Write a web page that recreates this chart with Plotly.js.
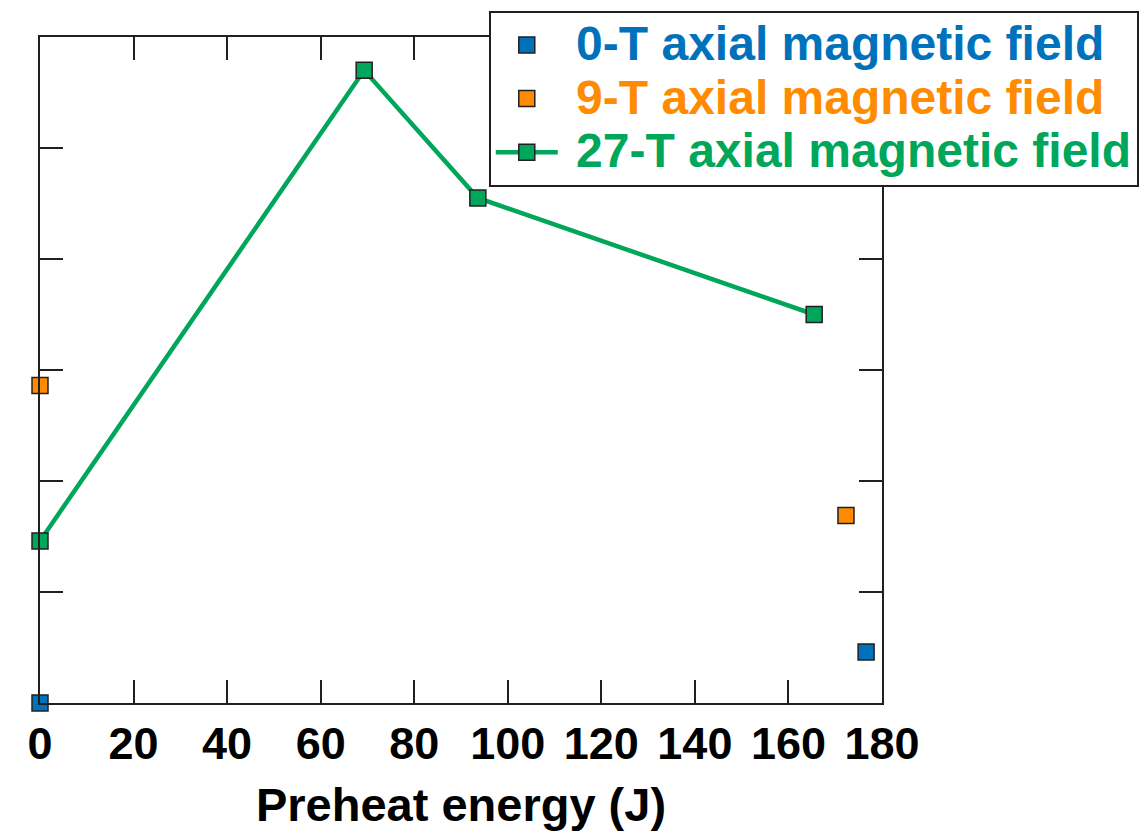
<!DOCTYPE html>
<html>
<head>
<meta charset="utf-8">
<script src="https://cdn.plot.ly/plotly-3.0.1.min.js"></script>
<style>html,body{margin:0;padding:0;background:#fff;}#chart{width:1140px;height:837px;}</style>
</head>
<body>
<div id="chart"></div>
<script>
// Data (y in arbitrary units, tick interval = 1)
const x0T = [0, 176.6];
const y0T = [0, 0.46];
const x9T = [0, 172.3];
const y9T = [2.86, 1.69];
const x27T = [0, 69.3, 93.6, 165.5];
const y27T = [1.46, 5.70, 4.55, 3.50];
const names = ['0-T axial magnetic field', '9-T axial magnetic field', '27-T axial magnetic field'];
const colors = ['#0072BC', '#FF8C00', '#00A65A'];
const xTicks = [0, 20, 40, 60, 80, 100, 120, 140, 160, 180];

const FONT = 'Liberation Sans, Arial, sans-serif';
const mk = (c) => ({symbol: 'square', size: 16, color: c, line: {color: '#231F20', width: 1.5}});
const legName = (n, c) => '<span style="color:' + c + ';font-size:48px">&nbsp;' + n + '</span>';

const traces = [
  {x: x0T, y: y0T, name: legName(names[0], colors[0]), mode: 'markers', marker: mk(colors[0]), cliponaxis: false},
  {x: x9T, y: y9T, name: legName(names[1], colors[1]), mode: 'markers', marker: mk(colors[1]), cliponaxis: false},
  {x: x27T, y: y27T, name: legName(names[2], colors[2]), mode: 'lines+markers', line: {color: colors[2], width: 4.5}, marker: mk(colors[2]), cliponaxis: false}
];

const layout = {
  width: 1140, height: 837,
  margin: {l: 40, r: 258, t: 37, b: 134, autoexpand: false},
  paper_bgcolor: '#fff', plot_bgcolor: '#fff',
  font: {family: FONT, color: '#000'},
  showlegend: true,
  legend: {
    x: 0.533, y: 1.039, xanchor: 'left', yanchor: 'top',
    bgcolor: '#fff', bordercolor: '#231F20', borderwidth: 2,
    font: {family: FONT, size: 39, weight: 'bold'},
    itemwidth: 62
  },
  xaxis: {
    range: [0, 180], tickvals: xTicks, ticktext: xTicks.map(String),
    ticks: 'inside', ticklen: 23, tickwidth: 2, tickcolor: '#231F20',
    showline: true, linecolor: '#231F20', linewidth: 2, mirror: 'ticks',
    showgrid: false, zeroline: false,
    tickfont: {family: FONT, size: 45, weight: 'bold', color: '#000'},
    title: {text: 'Preheat energy (J)', font: {family: FONT, size: 47, weight: 'bold', color: '#000'}, standoff: 20}
  },
  yaxis: {
    range: [0, 6], dtick: 1, showticklabels: false,
    ticks: 'inside', ticklen: 23, tickwidth: 2, tickcolor: '#231F20',
    showline: true, linecolor: '#231F20', linewidth: 2, mirror: 'ticks',
    showgrid: false, zeroline: false
  }
};

Plotly.newPlot('chart', traces, layout, {displayModeBar: false, staticPlot: true});
</script>
</body>
</html>
